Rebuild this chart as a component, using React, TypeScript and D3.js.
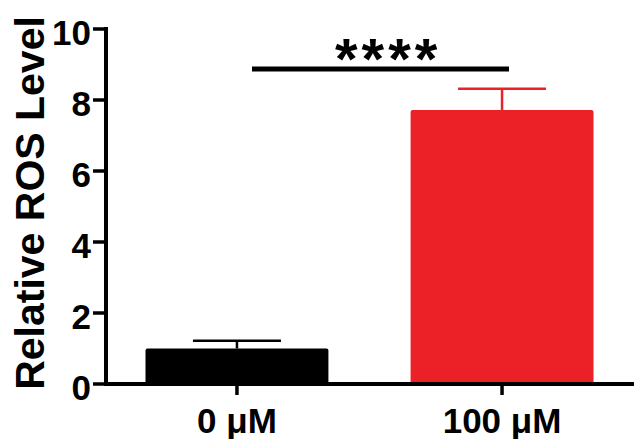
import React from "react";
import * as d3 from "d3";

const categories = ["0 μM", "100 μM"];
const means = [1.0, 7.72];
const errors = [0.22, 0.6];
const colors = ["#000000", "#EC2027"];
const yTicks = [0, 2, 4, 6, 8, 10];
const yTitle = "Relative ROS Level";
const sigLabel = "****";

export default function App() {
  const W = 634, H = 439;
  const x0 = 106;
  const y = d3.scaleLinear().domain([0, 10]).range([384, 29]);
  const x = d3.scaleBand<string>().domain(categories).range([145.5, 593.5]).paddingInner(0.31).paddingOuter(0);
  const bw = x.bandwidth();
  const font = "Liberation Sans, Arial, Helvetica, sans-serif";
  const cx = (c: string) => (x(c) as number) + bw / 2;
  return (
    <svg width={W} height={H} style={{ position: "absolute", left: 0, top: 0, background: "#fff" }} fontFamily={font}>
      {categories.map((c, i) => (
        <g key={c}>
          <line x1={cx(c)} x2={cx(c)} y1={y(means[i])} y2={y(means[i] + errors[i])} stroke={colors[i]} strokeWidth={2.5} />
          <line x1={cx(c) - 44} x2={cx(c) + 44} y1={y(means[i] + errors[i])} y2={y(means[i] + errors[i])} stroke={colors[i]} strokeWidth={2.5} />
          <rect x={x(c)} y={y(means[i])} width={bw} height={y(0) - y(means[i])} fill={colors[i]} rx={2} />
        </g>
      ))}
      <line x1={x0} x2={x0} y1={y(10) - 2} y2={y(0) + 2} stroke="#000" strokeWidth={4} />
      {yTicks.map((t) => (
        <g key={t}>
          <line x1={x0 - 13} x2={x0} y1={y(t)} y2={y(t)} stroke="#000" strokeWidth={3.5} />
          <text x={x0 - 15} y={y(t) + 3} dy="0.36em" textAnchor="end" fontSize={35} fontWeight="bold">{t}</text>
        </g>
      ))}
      <line x1={x0 - 2} x2={W} y1={y(0)} y2={y(0)} stroke="#000" strokeWidth={4} />
      {categories.map((c) => (
        <g key={c}>
          <line x1={cx(c)} x2={cx(c)} y1={y(0)} y2={y(0) + 11} stroke="#000" strokeWidth={3.5} />
          <text x={cx(c)} y={433} textAnchor="middle" fontSize={35} fontWeight="bold">{c}</text>
        </g>
      ))}
      <text transform={`translate(44,203) rotate(-90)`} textAnchor="middle" fontSize={41} fontWeight="bold">{yTitle}</text>
      <line x1={252} x2={509} y1={69} y2={69} stroke="#000" strokeWidth={5} />
      <text x={335} y={79} textAnchor="start" fontSize={58} fontWeight="bold" letterSpacing={4}>{sigLabel}</text>
    </svg>
  );
}
